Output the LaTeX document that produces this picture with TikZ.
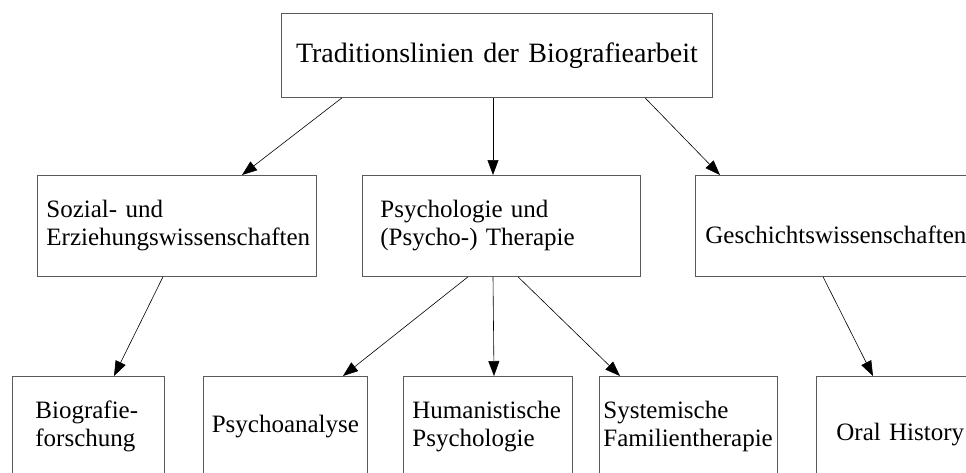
\documentclass[tikz,border=0pt]{standalone}
\usepackage{fontspec}
\setmainfont{Liberation Serif}
\usetikzlibrary{arrows.meta, positioning}
\definecolor{boxgray}{HTML}{5A5A5A}
\hyphenpenalty=10000

\begin{document}
\begin{tikzpicture}[x=1pt, y=-1pt]
\tikzstyle{box} = [rectangle, anchor=north west, draw=boxgray, line width=0.8pt, align=left, inner ysep=0pt, minimum height=100pt, font=\fontsize{25}{28}\selectfont]
\tikzstyle{link} = [-{Triangle[length=15pt, width=11pt]}, line width=0.6pt]

\useasboundingbox (0,0) rectangle (966,472);
\clip (0,0) rectangle (966,472);

\node (root) [box, align=center, inner xsep=5pt, text width=421pt, minimum height=84pt, font=\fontsize{28}{32}\selectfont] at (281,13) {Traditionslinien der Biografiearbeit};

\node (sozial) [box, inner xsep=9pt, text width=261pt, minimum height=101pt] at (37,175) {Sozial- und\\Erziehungswissenschaften};
\node (psych) [box, inner xsep=18pt, text width=242pt, minimum height=101pt] at (362,175) {Psychologie und\\(Psycho-) Therapie};
\node (gesch) [box, inner xsep=10pt, text width=300pt, minimum height=101pt, text height=42pt, text depth=7pt] at (695,175) {Geschichtswissenschaften};

\node (bio) [box, inner xsep=23pt, text width=106pt] at (12,376) {Biografie-\\forschung};
\node (psa) [box, align=center, inner xsep=4pt, text width=156pt] at (203,376) {Psychoanalyse};
\node (hum) [box, inner xsep=9pt, text width=151pt] at (403,376) {Humanistische\\Psychologie};
\node (sys) [box, inner xsep=4pt, text width=170pt] at (599,376) {Systemische\\Familientherapie};
\node (oral) [box, inner xsep=20pt, text width=180pt, text height=34pt, text depth=6pt] at (816,376) {Oral History};

\draw [link] ([xshift=61pt]root.south west) -- ([xshift=205pt]sozial.north west);
\draw [link] ([xshift=212pt]root.south west) -- ([xshift=131pt]psych.north west);
\draw [link] ([xshift=364pt]root.south west) -- ([xshift=25pt]gesch.north west);

\draw [link] ([xshift=126pt]sozial.south west) -- ([xshift=102pt]bio.north west);
\draw [link] ([xshift=106pt]psych.south west) -- ([xshift=140pt]psa.north west);
\draw [link] ([xshift=131pt]psych.south west) -- ([xshift=91pt]hum.north west);
\draw [link] ([xshift=156pt]psych.south west) -- ([xshift=21pt]sys.north west);
\draw [link] ([xshift=128pt]gesch.south west) -- ([xshift=57pt]oral.north west);

\end{tikzpicture}
\end{document}
